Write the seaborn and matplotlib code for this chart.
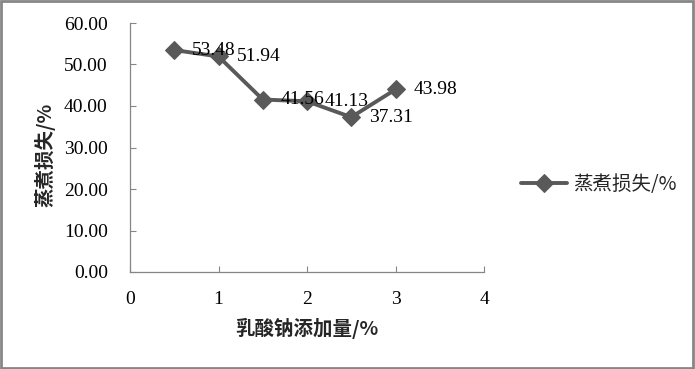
import matplotlib
matplotlib.use("Agg")
import matplotlib.pyplot as plt
import seaborn as sns
import pandas as pd
from matplotlib.patches import Rectangle

x_vals = [0.5, 1.0, 1.5, 2.0, 2.5, 3.0]
y_vals = [53.48, 51.94, 41.56, 41.13, 37.31, 43.98]
series_name = "蒸煮损失/%"
x_label = "乳酸钠添加量/%"
y_label = "蒸煮损失/%"
x_ticks = [0, 1, 2, 3, 4]
y_ticks = [0, 10, 20, 30, 40, 50, 60]

sns.set_theme(style="white")
plt.rcParams['font.family'] = ['Liberation Serif', 'Noto Sans CJK SC', 'DejaVu Sans']

df = pd.DataFrame({"x": x_vals, "y": y_vals, "s": series_name})

fig = plt.figure(figsize=(6.95, 3.69), dpi=100)
ax = fig.add_axes([130/695, 1-272/369, (484-130)/695, (272-23)/369])

color = "#595959"
sns.lineplot(data=df, x="x", y="y", hue="s", palette=[color], marker="D",
             markersize=9, linewidth=2.8, markeredgecolor=color, ax=ax)

FS = 14
for xv, yv in zip(x_vals, y_vals):
    ax.annotate(f"{yv:.2f}", (xv, yv), xytext=(13, 0), textcoords="offset points",
                ha="left", va="center", fontsize=FS, color="black",
                family=['Liberation Serif'])

ax.set_xlim(0, 4)
ax.set_ylim(0, 60)
ax.set_xticks(x_ticks)
ax.set_yticks(y_ticks)
ax.set_yticklabels([f"{v:.2f}" for v in y_ticks])
ax.tick_params(axis="y", direction="in", length=4, width=0.8, color="#868686",
               labelsize=FS, pad=16, left=True)
ax.tick_params(axis="x", direction="in", length=4, width=0.8, color="#868686",
               labelsize=FS, pad=14, bottom=True)
for lbl in ax.get_xticklabels() + ax.get_yticklabels():
    lbl.set_family(['Liberation Serif'])
    lbl.set_color("black")

for s in ["top", "right"]:
    ax.spines[s].set_visible(False)
for s in ["left", "bottom"]:
    ax.spines[s].set_color("#868686")
    ax.spines[s].set_linewidth(0.9)

ax.set_xlabel(x_label, fontsize=FS, fontweight="bold",
              family=['Noto Sans CJK SC', 'DejaVu Sans'])
ax.set_ylabel(y_label, fontsize=FS, fontweight="bold",
              family=['Noto Sans CJK SC', 'DejaVu Sans'])
ax.xaxis.set_label_coords((307-130)/354, (272-328)/249)
ax.xaxis.label.set_va("center")
ax.yaxis.set_label_coords((45-130)/354, (272-155)/249)
ax.yaxis.label.set_va("center")

leg = ax.legend(loc="center left", bbox_to_anchor=(503/695, 1-184/369),
                bbox_transform=fig.transFigure, frameon=False,
                prop={"family": ['Noto Sans CJK SC', 'DejaVu Sans'], "size": 14},
                handlelength=2.4, handletextpad=0.3)

fig.patches.append(Rectangle((0.002, 0.003), 0.995, 0.993, transform=fig.transFigure,
                             fill=False, edgecolor="#868686", linewidth=2))

fig.savefig("out.png", dpi=100)
